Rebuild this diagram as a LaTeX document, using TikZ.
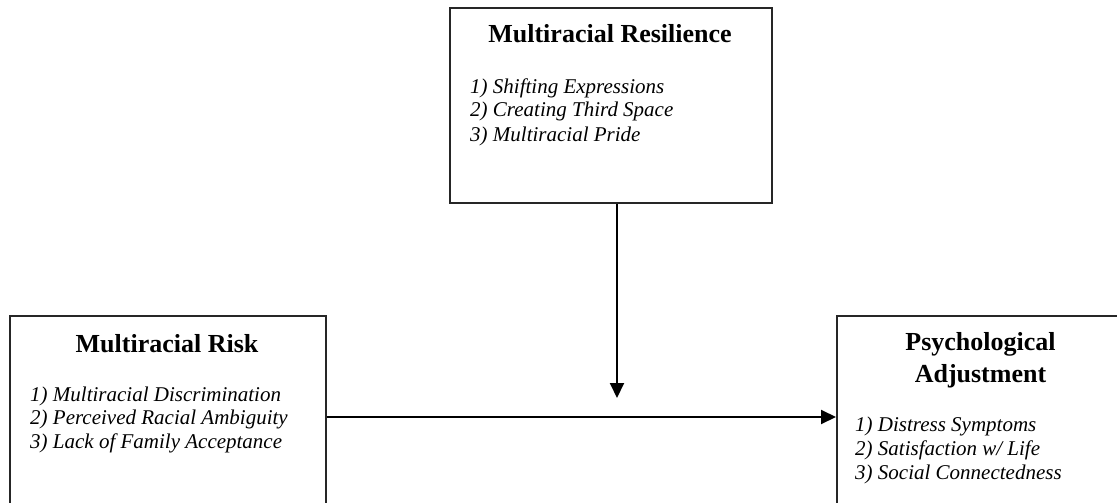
\documentclass[tikz,border=0pt]{standalone}
\usepackage{fontspec}
\setmainfont{Liberation Serif}
\usetikzlibrary{arrows.meta}
\tikzset{
  box/.style={draw=black!85, line width=1.6pt, rectangle, inner sep=0pt, anchor=north west},
  ttl/.style={font=\fontsize{26}{30}\selectfont\bfseries, anchor=base, inner sep=0pt},
  itm/.style={font=\fontsize{21}{24}\selectfont\itshape, anchor=base west, inner sep=0pt},
  arr/.style={line width=2pt, -{Triangle[length=15pt,width=14pt]}}
}
\begin{document}
\begin{tikzpicture}[x=1pt,y=1pt]
\useasboundingbox (0,0) rectangle (1117,-503);
\clip (0,0) rectangle (1117,-503);
% boxes
\node[box, minimum width=322pt, minimum height=195pt] (res) at (449,-7) {};
\node[box, minimum width=316pt, minimum height=200pt] (risk) at (9,-315) {};
\node[box, minimum width=290pt, minimum height=200pt] (adj) at (836,-315) {};
% top box text
\node[ttl] (rt) at (610,-43) {Multiracial Resilience};
\node[itm] (r1) at (470,-93) {1) Shifting Expressions};
\node[itm] (r2) at (470,-117) {2) Creating Third Space};
\node[itm] (r3) at (470,-141) {3) Multiracial Pride};
% left box text
\node[ttl] (kt) at (167,-352) {Multiracial Risk};
\node[itm] (k1) at (30,-401) {1) Multiracial Discrimination};
\node[itm] (k2) at (30,-424.5) {2) Perceived Racial Ambiguity};
\node[itm] (k3) at (30,-448) {3) Lack of Family Acceptance};
% right box text
\node[ttl] (at1) at (980.5,-350) {Psychological};
\node[ttl] (at2) at (980.5,-382) {Adjustment};
\node[itm] (a1) at (855,-431) {1) Distress Symptoms};
\node[itm] (a2) at (855,-455) {2) Satisfaction w/ Life};
\node[itm] (a3) at (855,-479) {3) Social Connectedness};
% connectors
\coordinate (mtip) at (617,-398);
\coordinate (hline) at (0,-417);
\draw[arr] (res.south -| mtip) -- (mtip);
\draw[arr] (risk.east |- hline) -- (adj.west |- hline);
\end{tikzpicture}
\end{document}
